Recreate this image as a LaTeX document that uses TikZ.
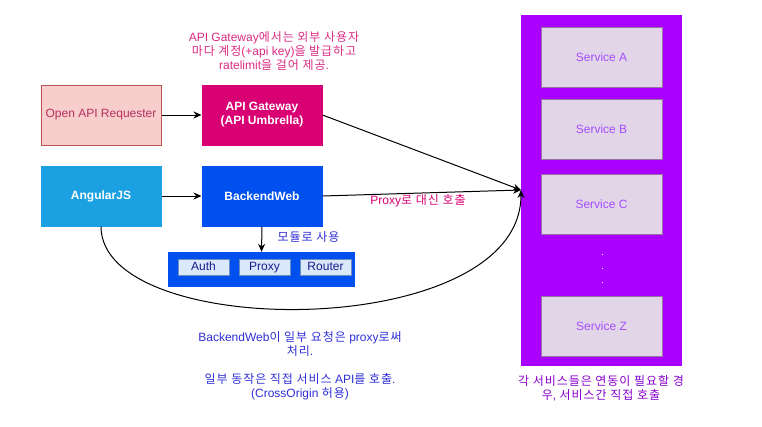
\documentclass[tikz,border=0pt]{standalone}
\usepackage{fontspec}
\setmainfont{Liberation Sans}
\newfontfamily\krfont{Noto Sans CJK KR}[LetterSpace=8]
\newcommand{\kr}[1]{{\krfont #1}}
\usetikzlibrary{positioning,arrows.meta}
\definecolor{reqfill}{HTML}{F8CECC}
\definecolor{reqline}{HTML}{B85450}
\definecolor{reqtext}{HTML}{B5305F}
\definecolor{gwpink}{HTML}{D80073}
\definecolor{notepink}{HTML}{DB2A82}
\definecolor{ngblue}{HTML}{1BA1E2}
\definecolor{bwblue}{HTML}{0050EF}
\definecolor{modfill}{HTML}{DAE8FC}
\definecolor{modline}{HTML}{6C8EBF}
\definecolor{modtext}{HTML}{1A1A8C}
\definecolor{noteblue}{HTML}{2E2ED6}
\definecolor{svcpurple}{HTML}{AA00FF}
\definecolor{svcfill}{HTML}{E1D5E7}
\definecolor{svcline}{HTML}{9673A6}
\definecolor{svctext}{HTML}{A64DFF}
\definecolor{capurple}{HTML}{8800CC}
\tikzset{main node/.style={draw, line width=1pt, minimum width=120pt, minimum height=60pt, inner sep=0pt, align=center},
  dark node/.style={main node, text=white, font=\fontsize{12}{14}\selectfont\bfseries},
  mod node/.style={draw=modline, fill=modfill, text=modtext, line width=1pt, minimum width=51pt, minimum height=16pt, inner sep=0pt, text height=8.5pt, text depth=2.5pt},
  svc node/.style={main node, draw=svcline, fill=svcfill, text=svctext, minimum width=121pt},
  note/.style={align=center, inner sep=0pt, font=\fontsize{12}{14}\selectfont},
  arrow/.style={-{Stealth[length=8pt,width=7pt]}, line width=1pt},}

\begin{document}
\begin{tikzpicture}[x=1pt, y=-1pt, font=\fontsize{12}{14}\selectfont]
        \useasboundingbox (0,0) rectangle (762,426);
        % Nodes
        \node[main node, fill=reqfill, draw=reqline, text=reqtext] (req) at (101,115) {Open API Requester};
        \node[dark node, fill=gwpink, draw=gwpink] [right = 40pt of req] (gw) {API Gateway\\(API Umbrella)};
        \node[main node, fill=ngblue, draw=ngblue, text=white, font=\fontsize{12}{14}\selectfont\bfseries] [below = 20pt of req] (ng) {AngularJS};
        \node[dark node, fill=bwblue, draw=bwblue] [right = 40pt of ng] (bw) {BackendWeb};
        \node[fill=bwblue, minimum width=187pt, minimum height=35pt, inner sep=0pt] (mods) at (261.5,269.5) {};
        \node[mod node] (auth) at (203.5,267) {Auth};
        \node[mod node] [right = 9pt of auth] (proxy) {Proxy};
        \node[mod node] [right = 9pt of proxy] (router) {Router};
        \node[fill=svcpurple, minimum width=161pt, minimum height=351pt, inner sep=0pt] (svcs) at (601.5,190.5) {};
        \node[svc node] (svca) at (601.5,57) {Service A};
        \node[svc node] [below = 11pt of svca] (svcb) {Service B};
        \node[svc node] [below = 14pt of svcb] (svcc) {Service C};
        \node[svc node] [below = 61pt of svcc] (svcz) {Service Z};
        \foreach \y in {254,268,282}
            \fill[white] (601.5,\y) rectangle +(1.8,1);
        \coordinate (hub) at (521,190);
        % Notes
        \node[note, text=notepink] (gwnote) at (274,51) {API Gateway\kr{에서는 외부 사용자}\\\kr{마다 계정}(+api key)\kr{을 발급하고}\\ratelimit\kr{을 걸어 제공}.};
        \node[note, text=noteblue] (ngnote) at (300,366) {BackendWeb\kr{이 일부 요청은} proxy\kr{로써}\\\kr{처리}.\\[14pt]\kr{일부 동작은 직접 서비스} API\kr{를 호출}.\\(CrossOrigin \kr{허용})};
        \node[note, text=capurple] (svcnote) at (601,388) {\kr{각 서비스들은 연동이 필요할 경}\\\kr{우}, \kr{서비스간 직접 호출}};
        \node[note, text=noteblue] (modnote) at (308.5,237) {\kr{모듈로 사용}};
        \node[note, text=gwpink] (proxynote) at (418,201) {Proxy\kr{로 대신 호출}};
        % Paths
        \draw[arrow] (req) -- (gw);
        \draw[arrow] (ng) -- (bw);
        \draw[arrow] (bw.south) -- (mods.north);
        \draw[arrow] (gw.east) -- (hub);
        \draw[arrow] (bw.east) -- (hub);
        \draw[arrow] (ng.south) .. controls (101,342) and (521,342) .. (hub);
    \end{tikzpicture}
\end{document}
